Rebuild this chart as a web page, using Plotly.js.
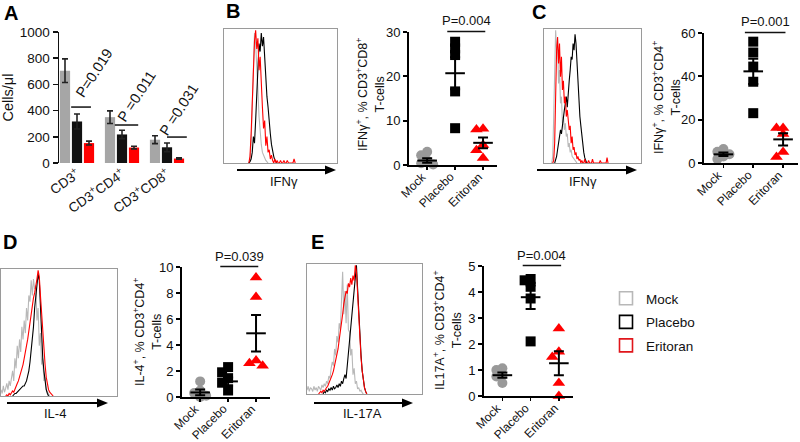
<!DOCTYPE html>
<html>
<head>
<meta charset="utf-8">
<script src="https://cdn.plot.ly/plotly-3.0.1.min.js"></script>
<style>html,body{margin:0;padding:0;background:#fff;}#chart{width:800px;height:442px;}</style>
</head>
<body>
<div id="chart"></div>
<script>
// ---------------- DATA ----------------
const groups = ['Mock', 'Placebo', 'Eritoran'];

// Panel A (cells/µl)
const aCats = ['CD3<sup>+</sup>', 'CD3<sup>+</sup>CD4<sup>+</sup>', 'CD3<sup>+</sup>CD8<sup>+</sup>'];
const aMock = [705, 350, 178];
const aMockErr = [90, 48, 30];
const aPlacebo = [317, 218, 120];
const aPlaceboErr = [57, 32, 33];
const aEritoran = [152, 118, 34];
const aEritoranErr = [15, 10, 5];
const aPvals = ['P=0.019', 'P =0.011', 'P =0.031'];

// Panel B scatter: IFNγ+ % CD3+CD8+
const bMock = [3.0, 2.2, 1.0, 0.4, 0.1];
const bPlacebo = [27.8, 26.3, 24.8, 16.6, 8.3];
const bEritoran = [8.2, 8.0, 4.5, 3.3, 1.6];
const bMean = [1.0, 20.7, 5.0];
const bSem = [0.5, 3.6, 1.2];

// Panel C scatter: IFNγ+ % CD3+CD4+
const cMock = [6.5, 5.2, 4.0, 3.0, 1.8];
const cPlacebo = [56, 51, 44.5, 37.5, 23];
const cEritoran = [16.2, 16.2, 13.4, 5.1, 2.8];
const cMean = [4.0, 42.3, 10.9];
const cSem = [0.8, 5.8, 2.8];

// Panel D scatter: IL-4+ % CD3+CD4+
const dMock = [1.2, 0.5, 0.3, 0.1, 0.0];
const dPlacebo = [2.3, 1.9, 1.45, 1.1, 0.5];
const dEritoran = [9.2, 7.7, 2.8, 2.6, 2.4];
const dMean = [0.35, 1.2, 4.9];
const dSem = [0.22, 0.3, 1.4];

// Panel E scatter: IL17A+ % CD3+CD4+
const eMock = [1.07, 1.0, 0.8, 0.75, 0.5];
const ePlacebo = [4.5, 4.45, 4.2, 3.75, 2.1];
const eEritoran = [2.6, 1.7, 1.5, 0.5, 0.0];
const eMean = [0.8, 3.8, 1.26];
const eSem = [0.1, 0.45, 0.46];

const pB = 'P=0.004', pC = 'P=0.001', pD = 'P=0.039', pE = 'P=0.004';

// Flow histograms (normalised counts per channel; start channel given separately)
const bHistMockStart = 22;
const bHistMock = [0,0.02,0.15,0.5,0.85,0.98,0.9,0.75,0.55,0.35,0.22,0.14,0.08,0.05,0.04,0.02,0.01,0];
const bHistPlaceboStart = 22;
const bHistPlacebo = [0,0.01,0.03,0.08,0.2,0.15,0.32,0.55,0.78,0.9,0.84,0.98,0.88,0.95,0.8,0.62,0.5,0.42,0.3,0.22,0.14,0.08,0.05,0.02,0.01,0];
const bHistEritoranStart = 22;
const bHistEritoran = [0,0.05,0.22,0.48,0.78,0.92,1.0,0.86,0.94,0.7,0.8,0.55,0.42,0.26,0.32,0.13,0.2,0.08,0.1,0.03,0.06,0.02,0,0.03,0,0.02,0,0,0.02,0,0,0.02,0,0,0.02,0,0,0,0,0,0.03,0];

const cHistMockStart = 8;
const cHistMock = [0,0.05,0.35,0.8,1.0,0.85,0.9,0.6,0.7,0.45,0.5,0.3,0.35,0.25,0.3,0.2,0.22,0.12,0.15,0.08,0.1,0.05,0.04,0.03,0.02,0.01,0];
const cHistPlaceboStart = 11;
const cHistPlacebo = [0,0.02,0.05,0.1,0.15,0.2,0.25,0.22,0.3,0.35,0.4,0.45,0.5,0.42,0.55,0.62,0.7,0.8,0.78,0.9,0.85,0.97,0.9,0.75,0.6,0.5,0.35,0.28,0.2,0.12,0.08,0.04,0.02,0];
const cHistEritoranStart = 9;
const cHistEritoran = [0,0.02,0.15,0.55,0.85,0.95,0.75,0.9,0.65,0.8,0.55,0.62,0.45,0.5,0.35,0.4,0.3,0.25,0.28,0.15,0.2,0.1,0.12,0.06,0.08,0.03,0.05,0.02,0.03,0,0.02,0,0,0.03,0,0,0,0.02,0,0,0,0.03,0,0,0,0,0,0,0,0.02,0,0,0,0,0,0,0.04,0];

const dHistMockStart = 0;
const dHistMock = [0.05,0.02,0.08,0.03,0.06,0.1,0.05,0.12,0.08,0.15,0.2,0.12,0.3,0.22,0.4,0.3,0.45,0.35,0.55,0.45,0.6,0.5,0.7,0.6,0.8,0.75,0.92,0.8,0.93,0.85,0.88,0.6,0.7,0.4,0.5,0.25,0.3,0.12,0.15,0.05,0.03,0.02,0];
const dHistPlaceboStart = 10;
const dHistPlacebo = [0,0.01,0.02,0.02,0.03,0.04,0.05,0.06,0.07,0.08,0.08,0.1,0.12,0.16,0.2,0.27,0.35,0.45,0.55,0.7,0.8,0.88,0.97,0.92,0.7,0.5,0.3,0.2,0.1,0.05,0.02,0];
const dHistEritoranStart = 4;
const dHistEritoran = [0,0.01,0,0.02,0.01,0.03,0.04,0.03,0.06,0.08,0.1,0.12,0.15,0.18,0.22,0.25,0.3,0.34,0.4,0.45,0.52,0.58,0.65,0.7,0.78,0.82,0.9,0.93,1.0,0.95,0.8,0.65,0.5,0.35,0.25,0.15,0.08,0.05,0.03,0.02,0.01,0];

const eHistMockStart = 0;
const eHistMock = [0.03,0.06,0.02,0.05,0.04,0.02,0.06,0.03,0.05,0.02,0.06,0.04,0.03,0.07,0.05,0.08,0.06,0.1,0.08,0.14,0.12,0.2,0.25,0.22,0.35,0.3,0.45,0.4,0.55,0.5,0.72,0.95,0.62,0.8,0.55,0.85,0.5,0.48,0.3,0.35,0.15,0.2,0.08,0.1,0.04,0.05,0.02,0.03,0.01,0];
const eHistPlaceboStart = 14;
const eHistPlacebo = [0,0.02,0.01,0.03,0.02,0.04,0.03,0.05,0.03,0.06,0.04,0.05,0.07,0.05,0.08,0.06,0.1,0.08,0.12,0.15,0.12,0.22,0.3,0.4,0.48,0.6,0.7,0.82,0.9,1.0,0.82,0.62,0.45,0.3,0.18,0.1,0.05,0.02,0];
const eHistEritoranStart = 10;
const eHistEritoran = [0,0.01,0.02,0.01,0.03,0.02,0.04,0.05,0.06,0.08,0.1,0.12,0.15,0.18,0.22,0.26,0.3,0.35,0.42,0.48,0.55,0.62,0.7,0.75,0.8,0.78,0.86,0.83,0.9,0.85,0.92,0.88,1.0,0.95,0.75,0.55,0.4,0.28,0.18,0.1,0.05,0.02,0];

// ---------------- STYLE / LAYOUT ----------------
const FONT = '"Liberation Sans", Arial, Helvetica, sans-serif';
const W = 800, H = 442;
const GRAY = '#a6a6a6', HGRAY = '#b8b8b8', DOT = '#999999', BLACK = '#000000', RED = '#ff0000';
const px = v => v / W;
const py = v => 1 - v / H;

// simple deterministic beeswarm dodge (positions derived from values)
function swarm(vals, center, pxPerY, pxPerX, size) {
  const placed = [];
  const xs = new Array(vals.length);
  const order = vals.map((v, i) => i).sort((a, b) => vals[b] - vals[a]);
  const step = size * 0.6;
  for (const i of order) {
    const y = vals[i] * pxPerY;
    let off = 0;
    for (const cand of [0, -1, 1, -2, 2]) {
      const ok = placed.every(p => Math.hypot((cand - p.c) * step, y - p.y) >= size * 0.55);
      if (ok) { off = cand; break; }
    }
    placed.push({c: off, y: y});
    xs[i] = center + off * step / pxPerX;
  }
  return xs;
}

const traces = [];
const annotations = [];
const shapes = [];

// ---- Panel A bars
const aSeries = [[aMock, aMockErr, GRAY], [aPlacebo, aPlaceboErr, '#111111'], [aEritoran, aEritoranErr, RED]];
aSeries.forEach((s, k) => {
  traces.push({
    type: 'bar', x: [0, 1, 2], y: s[0], xaxis: 'x', yaxis: 'y',
    marker: {color: s[2], line: {width: 0}},
    error_y: {type: 'data', array: s[1], visible: true, color: '#222', thickness: 1.6, width: 3},
    showlegend: false, hoverinfo: 'skip', offsetgroup: String(k)
  });
});

// ---- Histogram panels
function addHist(ax, mockS, mock, placS, plac, eriS, eri) {
  [[mockS, mock, HGRAY], [placS, plac, BLACK], [eriS, eri, RED]].forEach(h => {
    traces.push({
      type: 'scatter', mode: 'lines', x0: h[0], dx: 1, y: h[1],
      xaxis: 'x' + ax, yaxis: 'y' + ax, line: {color: h[2], width: 1.1},
      showlegend: false, hoverinfo: 'skip'
    });
  });
}
addHist(2, bHistMockStart, bHistMock, bHistPlaceboStart, bHistPlacebo, bHistEritoranStart, bHistEritoran);
addHist(4, cHistMockStart, cHistMock, cHistPlaceboStart, cHistPlacebo, cHistEritoranStart, cHistEritoran);
addHist(6, dHistMockStart, dHistMock, dHistPlaceboStart, dHistPlacebo, dHistEritoranStart, dHistEritoran);
addHist(8, eHistMockStart, eHistMock, eHistPlaceboStart, eHistPlacebo, eHistEritoranStart, eHistEritoran);

// ---- Scatter panels
const XR = [-0.65, 2.5];
function addScatter(ax, box, ymax, mock, plac, eri, mean, sem) {
  const pxPerY = (box.y1 - box.y0) / ymax;
  const pxPerX = (box.x1 - box.x0) / (XR[1] - XR[0]);
  const defs = [
    [mock, 0, 'circle', DOT, 10],
    [plac, 1, 'square', BLACK, 10],
    [eri, 2, 'triangle-up', RED, 11]
  ];
  defs.forEach(d => {
    traces.push({
      type: 'scatter', mode: 'markers',
      x: swarm(d[0], d[1], pxPerY, pxPerX, d[4]), y: d[0],
      xaxis: 'x' + ax, yaxis: 'y' + ax,
      marker: {symbol: d[2], size: d[4], color: d[3], line: {width: 0}},
      cliponaxis: false, showlegend: false, hoverinfo: 'skip'
    });
  });
  traces.push({
    type: 'scatter', mode: 'markers', x: [0, 1, 2], y: mean,
    xaxis: 'x' + ax, yaxis: 'y' + ax,
    marker: {symbol: 'line-ew', size: 14, color: BLACK, line: {width: 2, color: BLACK}},
    error_y: {type: 'data', array: sem, visible: true, color: BLACK, thickness: 2, width: 5},
    cliponaxis: false, showlegend: false, hoverinfo: 'skip'
  });
  // category labels, rotated, ending at the tick
  groups.forEach((g, i) => {
    annotations.push({text: g, xref: 'x' + ax, yref: 'paper', x: i, y: py(box.y1 + 2),
      xanchor: 'right', yanchor: 'top', xshift: 5, textangle: -45, showarrow: false,
      font: {size: 12, color: '#111'}});
  });
}

const boxB = {x0: 409, x1: 497, y0: 32, y1: 165};
const boxC = {x0: 704, x1: 798, y0: 33, y1: 163};
const boxD = {x0: 182, x1: 270, y0: 267, y1: 397};
const boxE = {x0: 484, x1: 573, y0: 266, y1: 396};
addScatter(3, boxB, 30, bMock, bPlacebo, bEritoran, bMean, bSem);
addScatter(5, boxC, 60, cMock, cPlacebo, cEritoran, cMean, cSem);
addScatter(7, boxD, 10, dMock, dPlacebo, dEritoran, dMean, dSem);
addScatter(9, boxE, 5, eMock, ePlacebo, eEritoran, eMean, eSem);

// ---- legend entries
[['Mock', HGRAY], ['Placebo', BLACK], ['Eritoran', '#e0161b']].forEach((g, i) => {
  traces.push({
    type: 'scatter', mode: 'markers', x: [null], y: [null], xaxis: 'x3', yaxis: 'y3',
    name: g[0], legendgroup: 'g' + i,
    marker: {symbol: 'square-open', size: 13, color: g[1], line: {width: 1.6, color: g[1]}},
    showlegend: true, hoverinfo: 'skip'
  });
});

// ---- axes
function scatX(box, yname) {
  return {domain: [px(box.x0), px(box.x1)], range: XR, anchor: yname,
    tickvals: [0, 1, 2], showticklabels: false,
    showline: true, linecolor: BLACK, linewidth: 2, ticks: 'outside', ticklen: 3, tickwidth: 1.5, tickcolor: BLACK,
    showgrid: false, zeroline: false, fixedrange: true};
}
function scatY(box, xname, ymax, dtick) {
  return {domain: [py(box.y1), py(box.y0)], range: [0, ymax], anchor: xname, dtick: dtick, tick0: 0,
    showline: true, linecolor: BLACK, linewidth: 2, ticks: 'outside', ticklen: 4, tickwidth: 2, tickcolor: BLACK,
    showgrid: false, zeroline: false, tickfont: {size: 13, color: '#111'}, fixedrange: true};
}
function histX(x0, x1, yname) {
  return {domain: [px(x0), px(x1)], range: [0, 100], anchor: yname, showline: true, mirror: true,
    linecolor: '#9a9a9a', linewidth: 1, showticklabels: false, ticks: '', showgrid: false, zeroline: false};
}
function histY(y0, y1, xname) {
  return {domain: [py(y1), py(y0)], range: [0, 1.01], anchor: xname, showline: true, mirror: true,
    linecolor: '#9a9a9a', linewidth: 1, showticklabels: false, ticks: '', showgrid: false, zeroline: false};
}

const layout = {
  width: W, height: H, margin: {l: 0, r: 0, t: 0, b: 0},
  paper_bgcolor: '#ffffff', plot_bgcolor: 'rgba(0,0,0,0)',
  font: {family: FONT, color: '#111', size: 13},
  barmode: 'group', bargap: 0.2, bargroupgap: 0.15,
  showlegend: true,
  legend: {x: px(606), y: py(283), xanchor: 'left', yanchor: 'top', traceorder: 'grouped', tracegroupgap: 3,
    font: {size: 13.5, color: '#111'}, bgcolor: 'rgba(0,0,0,0)', borderwidth: 0, itemwidth: 30},
  xaxis: {domain: [px(59), px(194)], range: [-0.4, 2.6], anchor: 'y', tickvals: [0, 1, 2], ticktext: aCats,
    tickangle: -35, showline: false, ticks: '', showgrid: false, zeroline: false, tickfont: {size: 13.5, color: '#111'}},
  yaxis: {domain: [py(163), py(32)], range: [0, 1000], anchor: 'x', dtick: 200, tick0: 0,
    showline: true, linecolor: '#111', linewidth: 1.5, ticks: 'outside', ticklen: 5, tickwidth: 1.5, tickcolor: '#111',
    showgrid: false, zeroline: false, tickfont: {size: 13.5, color: '#111'},
    title: {text: 'Cells/μl', font: {size: 14.5, color: '#111'}, standoff: 6}},
  xaxis2: histX(224, 337, 'y2'), yaxis2: histY(29, 163, 'x2'),
  xaxis3: scatX(boxB, 'y3'), yaxis3: scatY(boxB, 'x3', 30, 10),
  xaxis4: histX(544, 641, 'y4'), yaxis4: histY(29, 163, 'x4'),
  xaxis5: scatX(boxC, 'y5'), yaxis5: scatY(boxC, 'x5', 60, 20),
  xaxis6: histX(1, 117, 'y6'), yaxis6: histY(269, 396, 'x6'),
  xaxis7: scatX(boxD, 'y7'), yaxis7: scatY(boxD, 'x7', 10, 2),
  xaxis8: histX(307, 422, 'y8'), yaxis8: histY(264, 394, 'x8'),
  xaxis9: scatX(boxE, 'y9'), yaxis9: scatY(boxE, 'x9', 5, 1),
  annotations: annotations, shapes: shapes
};

// ---- panel letters
[['A', 2, 12.5], ['B', 224, 11], ['C', 530, 12], ['D', 1, 242], ['E', 309, 242]].forEach(l => {
  annotations.push({text: '<b>' + l[0] + '</b>', xref: 'paper', yref: 'paper', x: px(l[1]), y: py(l[2]),
    xanchor: 'left', yanchor: 'middle', showarrow: false, font: {size: 20, color: '#000'}});
});

// ---- panel A p-values and lines
const aPPos = [[0.38, 687, -0.13, 0.31, 427], [1.33, 511, 0.84, 1.36, 290], [2.26, 405, 2.0, 2.44, 198]];
aPPos.forEach((p, i) => {
  annotations.push({text: aPvals[i], xref: 'x', yref: 'y', x: p[0], y: p[1], textangle: -57,
    xanchor: 'center', yanchor: 'middle', showarrow: false, font: {size: 14.5, color: '#111'}});
  shapes.push({type: 'line', xref: 'x', yref: 'y', x0: p[2], x1: p[3], y0: p[4], y1: p[4],
    line: {color: '#111', width: 1.5}});
});

// ---- histogram axis labels & arrows (arrows as shapes)
[['IFNγ', 284, 181, 237, 336, 170], ['IFNγ', 583, 181, 537, 637, 170],
 ['IL-4', 55, 413, 7, 108, 403], ['IL-17A', 362, 413, 314, 413, 403]].forEach(h => {
  annotations.push({text: h[0], xref: 'paper', yref: 'paper', x: px(h[1]), y: py(h[2]),
    xanchor: 'center', yanchor: 'middle', showarrow: false, font: {size: 13, color: '#111'}});
  const tip = h[4], yy = h[5];
  shapes.push({type: 'line', xref: 'paper', yref: 'paper', x0: px(h[3]), x1: px(tip - 8), y0: py(yy), y1: py(yy),
    line: {color: '#000', width: 2}});
  shapes.push({type: 'path', xref: 'paper', yref: 'paper',
    path: 'M' + px(tip) + ',' + py(yy) + ' L' + px(tip - 11) + ',' + py(yy - 4.5) + ' L' + px(tip - 11) + ',' + py(yy + 4.5) + ' Z',
    fillcolor: '#000', line: {width: 0}});
});

// ---- scatter y titles
[['IFNγ<sup>+</sup>, % CD3<sup>+</sup>CD8<sup>+</sup><br>T-cells', 370, 95],
 ['IFNγ<sup>+</sup>, % CD3<sup>+</sup>CD4<sup>+</sup><br>T-cells', 666, 98],
 ['IL-4<sup>+</sup>, % CD3<sup>+</sup>CD4<sup>+</sup><br>T-cells', 147, 332],
 ['IL17A<sup>+</sup>, % CD3<sup>+</sup>CD4<sup>+</sup><br>T-cells', 447, 330]].forEach(t => {
  annotations.push({text: t[0], xref: 'paper', yref: 'paper', x: px(t[1]), y: py(t[2]), textangle: -90,
    xanchor: 'center', yanchor: 'middle', showarrow: false, font: {size: 12.5, color: '#111'}});
});

// ---- scatter p-values with comparison lines
[[3, boxB, pB], [5, boxC, pC], [7, boxD, pD], [9, boxE, pE]].forEach(s => {
  const yl = py(s[1].y0) + 0.5 / H;
  shapes.push({type: 'line', xref: 'x' + s[0], yref: 'paper', x0: 0.72, x1: 2.08, y0: yl, y1: yl,
    line: {color: '#111', width: 1.3}});
  annotations.push({text: s[2], xref: 'x' + s[0], yref: 'paper', x: 1.4, y: yl + 1 / H,
    xanchor: 'center', yanchor: 'bottom', showarrow: false, font: {size: 13, color: '#111'}});
});

Plotly.newPlot('chart', traces, layout, {staticPlot: true, displayModeBar: false});
</script>
</body>
</html>
